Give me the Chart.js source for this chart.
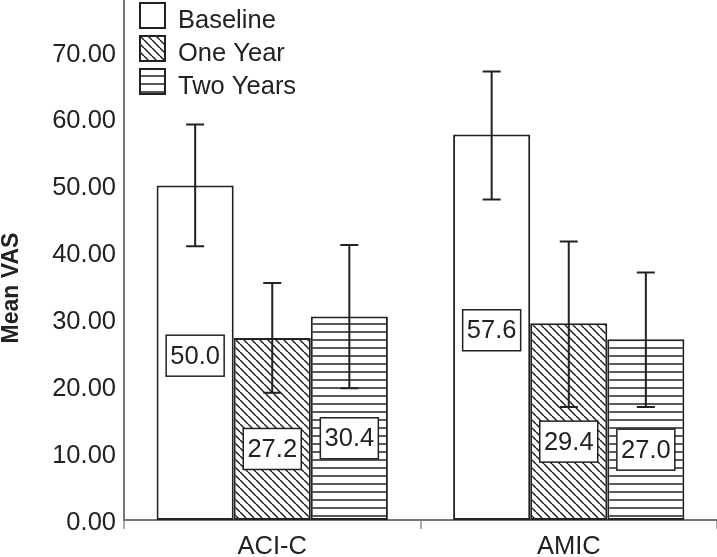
<!DOCTYPE html>
<html>
<head>
  <title>Mean VAS</title>
  <script src="https://cdn.jsdelivr.net/npm/chart.js"></script>
  <style>
    body { margin: 0; background: #fff; }
    #wrap { width: 717px; height: 557px; }
  </style>
</head>
<body>
<div id="wrap"><canvas id="myChart" width="717" height="557"></canvas></div>
<script>
  // dane
  const categories = ['ACI-C', 'AMIC'];
  const seriesNames = ['Baseline', 'One Year', 'Two Years'];
  const baseline = [50.0, 57.6];
  const oneYear = [27.2, 29.4];
  const twoYears = [30.4, 27.0];
  // granice słupków błędu (dół / góra)
  const baselineLow = [40.9, 47.9];
  const baselineHigh = [59.1, 67.0];
  const oneYearLow = [19.0, 16.9];
  const oneYearHigh = [35.4, 41.6];
  const twoYearsLow = [19.7, 16.9];
  const twoYearsHigh = [41.1, 37.0];
  const yTicks = [0, 10, 20, 30, 40, 50, 60, 70];

  const ink = '#222';
  const fontName = "'Liberation Sans', Arial, sans-serif";

  // wzory kreskowania
  function makePattern(kind) {
    const s = 8;
    const c = document.createElement('canvas');
    c.width = s; c.height = s;
    const g = c.getContext('2d');
    g.fillStyle = '#fff';
    g.fillRect(0, 0, s, s);
    g.strokeStyle = ink;
    g.lineWidth = 1.5;
    g.beginPath();
    if (kind === 'diag') {
      for (const k of [-s, 0, s]) {
        g.moveTo(k, 0);
        g.lineTo(k + s, s);
      }
    } else if (kind === 'horiz') {
      g.moveTo(0, s / 2);
      g.lineTo(s, s / 2);
    }
    g.stroke();
    return g.createPattern(c, 'repeat');
  }

  const fills = ['#fff', makePattern('diag'), makePattern('horiz')];
  const values = [baseline, oneYear, twoYears];
  const lows = [baselineLow, oneYearLow, twoYearsLow];
  const highs = [baselineHigh, oneYearHigh, twoYearsHigh];

  Chart.defaults.font.family = fontName;
  Chart.defaults.font.size = 25.5;
  Chart.defaults.color = ink;

  // słupki błędu, etykiety wartości, legenda, tytuł osi
  const extras = {
    id: 'extras',
    afterDatasetsDraw(chart) {
      const ctx = chart.ctx;
      const y = chart.scales.y;
      ctx.save();
      // słupki błędu
      ctx.strokeStyle = ink;
      ctx.lineWidth = 2;
      chart.data.datasets.forEach((ds, di) => {
        chart.getDatasetMeta(di).data.forEach((bar, i) => {
          const yl = y.getPixelForValue(lows[di][i]);
          const yh = y.getPixelForValue(highs[di][i]);
          ctx.beginPath();
          ctx.moveTo(bar.x, yl); ctx.lineTo(bar.x, yh);
          ctx.moveTo(bar.x - 9, yl); ctx.lineTo(bar.x + 9, yl);
          ctx.moveTo(bar.x - 9, yh); ctx.lineTo(bar.x + 9, yh);
          ctx.stroke();
        });
      });
      // etykiety wartości (w środku słupka, niżej gdy blisko dolnego wąsa)
      ctx.font = '25.5px ' + fontName;
      ctx.textAlign = 'center';
      ctx.textBaseline = 'middle';
      chart.data.datasets.forEach((ds, di) => {
        chart.getDatasetMeta(di).data.forEach((bar, i) => {
          const mid = (bar.y + bar.base) / 2;
          const yl = y.getPixelForValue(lows[di][i]);
          const cy = mid + (mid - yl < 60 ? 20 : 3);
          const w = 58, h = 41;
          ctx.fillStyle = '#fff';
          ctx.fillRect(bar.x - w / 2, cy - h / 2, w, h);
          ctx.lineWidth = 1.5;
          ctx.strokeRect(bar.x - w / 2, cy - h / 2, w, h);
          ctx.fillStyle = ink;
          ctx.fillText(ds.data[i].toFixed(1), bar.x, cy + 1);
        });
      });
      // legenda
      ctx.textAlign = 'left';
      ctx.textBaseline = 'alphabetic';
      chart.data.datasets.forEach((ds, di) => {
        const top = 3 + di * 33;
        ctx.fillStyle = ds.backgroundColor;
        ctx.fillRect(140, top, 25, 25);
        ctx.lineWidth = 2;
        ctx.strokeRect(140, top, 25, 25);
        ctx.fillStyle = ink;
        ctx.fillText(ds.label, 178, top + 25);
      });
      // tytuł osi Y
      ctx.translate(12, 288);
      ctx.rotate(-Math.PI / 2);
      ctx.textAlign = 'center';
      ctx.textBaseline = 'middle';
      ctx.font = 'bold 23px ' + fontName;
      ctx.fillText('Mean VAS', 0, 0);
      ctx.restore();
    }
  };

  new Chart(document.getElementById('myChart'), {
    type: 'bar',
    data: {
      labels: categories,
      datasets: seriesNames.map((name, di) => ({
        label: name,
        data: values[di],
        backgroundColor: fills[di],
        borderColor: ink,
        borderWidth: 2,
        borderSkipped: false,
        categoryPercentage: 0.78,
        barPercentage: 1.0
      }))
    },
    options: {
      responsive: false,
      animation: false,
      layout: { padding: 0 },
      plugins: { legend: { display: false }, tooltip: { enabled: false } },
      scales: {
        x: {
          afterFit(s) { s.height = 37; s.paddingLeft = 0; s.paddingRight = 0; },
          grid: { display: true, drawOnChartArea: false, offset: true, tickLength: 9, color: '#aaa', lineWidth: 2 },
          border: { display: true, color: '#777', width: 2 },
          ticks: { padding: 3, color: ink }
        },
        y: {
          min: 0,
          max: 77.7,
          afterFit(s) { s.width = 124; s.paddingTop = 0; s.paddingBottom = 0; },
          afterBuildTicks(s) { s.ticks = yTicks.map(v => ({ value: v })); },
          grid: { display: false, drawTicks: false },
          border: { display: true, color: '#777', width: 2 },
          ticks: { padding: 8, labelOffset: 3, color: ink, callback: v => Number(v).toFixed(2) }
        }
      }
    },
    plugins: [extras]
  });
</script>
</body>
</html>
